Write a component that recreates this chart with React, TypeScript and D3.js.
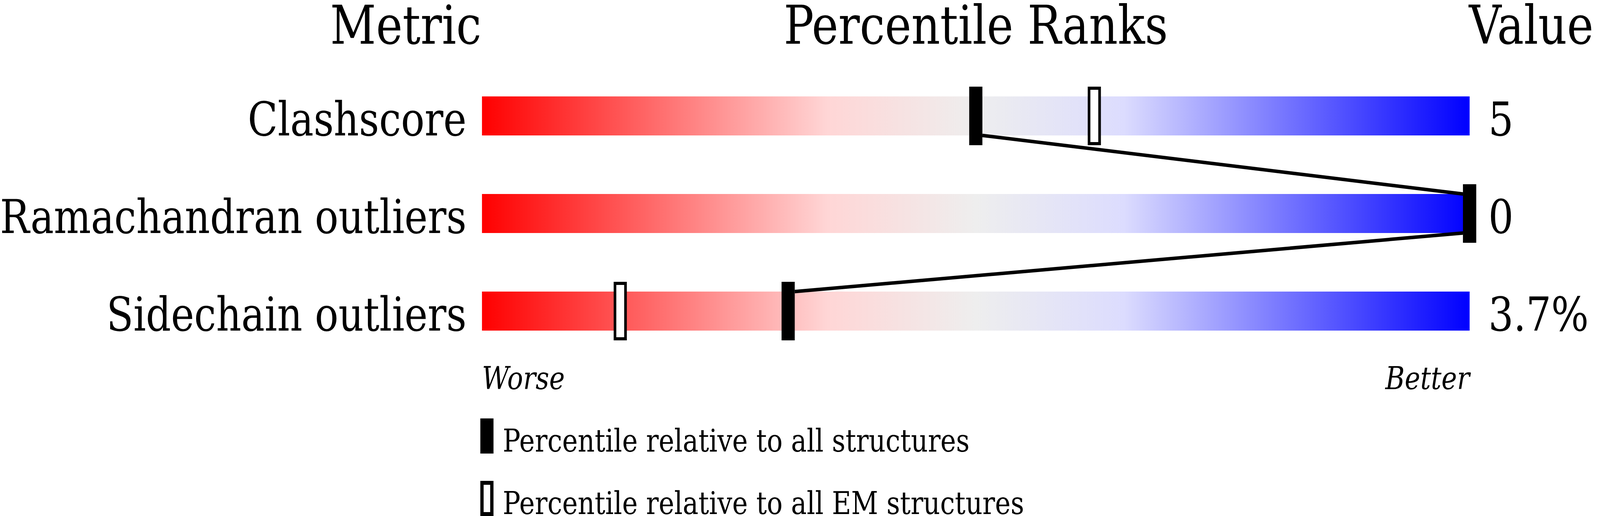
import { useEffect, useRef } from 'react'
import * as d3 from 'd3'

const metrics = ['Clashscore', 'Ramachandran outliers', 'Sidechain outliers']
const valueLabels = ['5', '0', '3.7%']
const pctAll = [50, 100, 31]
const pctEM = [62, 100, 14]
const headers = ['Metric', 'Percentile Ranks', 'Value']
const legendLabels = ['Percentile relative to all structures', 'Percentile relative to all EM structures']
const gradientStops = [
  { offset: 0, color: '#ff0000' },
  { offset: 0.35, color: '#ffd6d6' },
  { offset: 0.5, color: '#eeeeee' },
  { offset: 0.65, color: '#dcdcfe' },
  { offset: 1, color: '#0000ff' },
]

const W = 4860
const H = 1322
const FONT = '"DejaVu Serif", serif'

export default function App() {
  const svgRef = useRef<SVGSVGElement>(null)

  useEffect(() => {
    document.body.style.margin = '0'
    document.body.style.overflow = 'hidden'
    if (!svgRef.current) return
    const svg = d3.select(svgRef.current)
    svg.selectAll('*').remove()

    const x = d3.scaleLinear().domain([0, 100]).range([1464, 4464])
    const y = d3.scaleBand<string>().domain(metrics).range([247, 847]).paddingInner(0.6).paddingOuter(0)
    const bh = y.bandwidth()
    const mw = 40
    const over = 25

    const grad = svg.append('defs').append('linearGradient').attr('id', 'rank-grad').attr('x1', '0%').attr('x2', '100%')
    gradientStops.forEach((s) => grad.append('stop').attr('offset', s.offset).attr('stop-color', s.color))

    // headers
    const hy = 112
    svg.append('text').attr('x', 1462).attr('y', hy).attr('text-anchor', 'end').attr('font-size', 136).text(headers[0])
    svg.append('text').attr('x', (x(0) + x(100)) / 2).attr('y', hy).attr('text-anchor', 'middle').attr('font-size', 136).text(headers[1])
    svg.append('text').attr('x', 4462).attr('y', hy).attr('text-anchor', 'start').attr('font-size', 136).text(headers[2])

    metrics.forEach((m, i) => {
      const top = y(m) ?? 0
      svg.append('rect').attr('x', x(0)).attr('y', top).attr('width', x(100) - x(0)).attr('height', bh).attr('fill', 'url(#rank-grad)')
      svg.append('text').attr('x', 1417).attr('y', top + bh).attr('text-anchor', 'end').attr('font-size', 119).text(m)
      svg.append('text').attr('x', 4521).attr('y', top + bh).attr('font-size', 120).text(valueLabels[i])
      // EM percentile (open marker)
      svg.append('rect').attr('x', x(pctEM[i]) - mw / 2 + 4).attr('y', top - over + 4).attr('width', mw - 8).attr('height', bh + 2 * over - 8)
        .attr('fill', 'white').attr('stroke', 'black').attr('stroke-width', 8)
      // all-structure percentile (filled marker)
      svg.append('rect').attr('x', x(pctAll[i]) - mw / 2).attr('y', top - over).attr('width', mw).attr('height', bh + 2 * over).attr('fill', 'black')
    })

    // connectors between filled markers
    for (let i = 0; i < metrics.length - 1; i++) {
      const xa = x(pctAll[i])
      const xb = x(pctAll[i + 1])
      const side = xb >= xa ? 1 : -1
      const ya = (y(metrics[i]) ?? 0) + bh
      const yb = y(metrics[i + 1]) ?? 0
      svg.append('line').attr('x1', xa + side * mw / 2).attr('y1', ya).attr('x2', xb - side * mw / 2).attr('y2', yb)
        .attr('stroke', 'black').attr('stroke-width', 9)
    }

    svg.append('text').attr('x', x(0)).attr('y', 997).attr('font-size', 80).attr('font-style', 'italic').text('Worse')
    svg.append('text').attr('x', x(100)).attr('y', 997).attr('text-anchor', 'end').attr('font-size', 80).attr('font-style', 'italic').text('Better')

    // legend
    svg.append('rect').attr('x', 1459).attr('y', 1072).attr('width', 40).attr('height', 90).attr('fill', 'black')
    svg.append('rect').attr('x', 1464).attr('y', 1237).attr('width', 30).attr('height', 80).attr('fill', 'white').attr('stroke', 'black').attr('stroke-width', 10)
    svg.append('text').attr('x', 1527).attr('y', 1157).attr('font-size', 80).text(legendLabels[0])
    svg.append('text').attr('x', 1527).attr('y', 1317).attr('font-size', 80).text(legendLabels[1])
  }, [])

  return (
    <svg
      ref={svgRef}
      viewBox={`0 0 ${W} ${H}`}
      preserveAspectRatio="none"
      style={{ position: 'fixed', left: 0, top: 0, width: '100vw', height: '100vh', display: 'block', background: 'white', fontFamily: FONT }}
    />
  )
}
